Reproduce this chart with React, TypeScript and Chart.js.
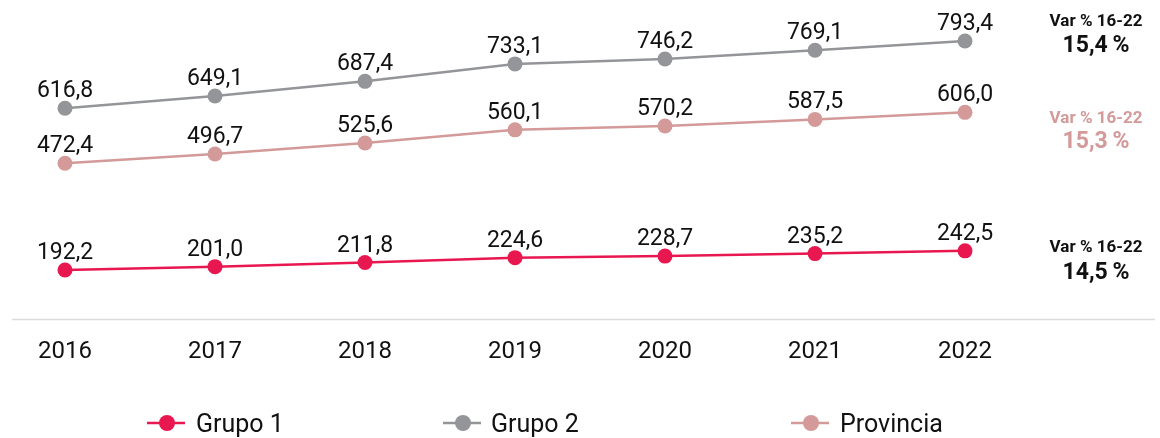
import React, { useEffect, useRef } from "react";
import { Chart, registerables } from "chart.js";

Chart.register(...registerables);

const years = ["2016", "2017", "2018", "2019", "2020", "2021", "2022"];
const grupo1 = [192.2, 201.0, 211.8, 224.6, 228.7, 235.2, 242.5];
const grupo2 = [616.8, 649.1, 687.4, 733.1, 746.2, 769.1, 793.4];
const provincia = [472.4, 496.7, 525.6, 560.1, 570.2, 587.5, 606.0];
const seriesNames = ["Grupo 1", "Grupo 2", "Provincia"];
const seriesColors = ["#E8174F", "#939598", "#D39A99"];
const varLabel = "Var % 16-22";
const varValues = ["14,5\u2009%", "15,4\u2009%", "15,3\u2009%"]; // Grupo 1, Grupo 2, Provincia
const varTextColors = ["#111111", "#111111", "#D39A99"];

const FONT = "Roboto, 'DejaVu Sans', sans-serif";
const fmt = (v: number) => v.toFixed(1).replace(".", ",");

export default function App() {
  const ref = useRef<HTMLCanvasElement | null>(null);

  useEffect(() => {
    document.body.style.margin = "0";
    const canvas = ref.current;
    if (!canvas) return;

    const overlay = {
      id: "overlay",
      afterDatasetsDraw(chart: any) {
        const ctx = chart.ctx;
        const xs = chart.scales.x;
        ctx.save();
        // axis line
        ctx.strokeStyle = "#dcdcdc";
        ctx.lineWidth = 1.5;
        ctx.beginPath();
        ctx.moveTo(12, 319.5);
        ctx.lineTo(1155, 319.5);
        ctx.stroke();

        // year labels
        ctx.fillStyle = "#111111";
        ctx.font = `24px ${FONT}`;
        ctx.textAlign = "center";
        ctx.textBaseline = "alphabetic";
        years.forEach((y, i) => {
          ctx.fillText(y, xs.getPixelForValue(i), 358);
        });

        // data labels
        ctx.font = `23px ${FONT}`;
        chart.data.datasets.forEach((ds: any, di: number) => {
          const meta = chart.getDatasetMeta(di);
          meta.data.forEach((pt: any, i: number) => {
            ctx.fillText(fmt(ds.data[i]), pt.x, pt.y - 11);
          });
        });

        // right annotations
        const ann = [
          { idx: 1, y1: 26, y2: 52 },
          { idx: 2, y1: 123, y2: 148 },
          { idx: 0, y1: 252, y2: 279 },
        ];
        ann.forEach((a) => {
          ctx.fillStyle = varTextColors[a.idx];
          ctx.font = `bold 17px ${FONT}`;
          ctx.fillText(varLabel, 1096, a.y1);
          ctx.font = `bold 23px ${FONT}`;
          ctx.fillText(varValues[a.idx], 1096, a.y2);
        });

        // legend
        const leg = [
          { idx: 0, cx: 167, tx: 196 },
          { idx: 1, cx: 463, tx: 491 },
          { idx: 2, cx: 811, tx: 840 },
        ];
        leg.forEach((l) => {
          const c = seriesColors[l.idx];
          ctx.strokeStyle = c;
          ctx.lineWidth = 2.5;
          ctx.beginPath();
          ctx.moveTo(l.cx - 20, 423);
          ctx.lineTo(l.cx + 18, 423);
          ctx.stroke();
          ctx.fillStyle = c;
          ctx.beginPath();
          ctx.arc(l.cx, 423, 8, 0, Math.PI * 2);
          ctx.fill();
          ctx.fillStyle = "#111111";
          ctx.font = `25px ${FONT}`;
          ctx.textAlign = "left";
          ctx.fillText(seriesNames[l.idx], l.tx, 432);
        });
        ctx.restore();
      },
    };

    const mk = (name: string, data: number[], color: string) => ({
      label: name,
      data,
      borderColor: color,
      backgroundColor: color,
      pointBackgroundColor: color,
      pointBorderColor: color,
      borderWidth: 2.5,
      pointRadius: 7.5,
      pointBorderWidth: 0,
      tension: 0,
      clip: false as any,
    });

    const chart = new Chart(canvas, {
      type: "line",
      data: {
        labels: years,
        datasets: [
          mk(seriesNames[0], grupo1, seriesColors[0]),
          mk(seriesNames[1], grupo2, seriesColors[1]),
          mk(seriesNames[2], provincia, seriesColors[2]),
        ],
      },
      options: {
        animation: false,
        responsive: false,
        maintainAspectRatio: false,
        devicePixelRatio: 1,
        layout: { padding: { left: 65, right: 195, top: 20, bottom: 119 } },
        plugins: { legend: { display: false }, tooltip: { enabled: false } },
        scales: {
          x: { type: "category", display: false, offset: false },
          y: { type: "linear", display: false, min: 63.6, max: 848.4 },
        },
      },
      plugins: [overlay],
    });
    return () => chart.destroy();
  }, []);

  return (
    <div style={{ width: 1160, height: 438, background: "#fff" }}>
      <canvas ref={ref} width={1160} height={438} style={{ display: "block" }} />
    </div>
  );
}
